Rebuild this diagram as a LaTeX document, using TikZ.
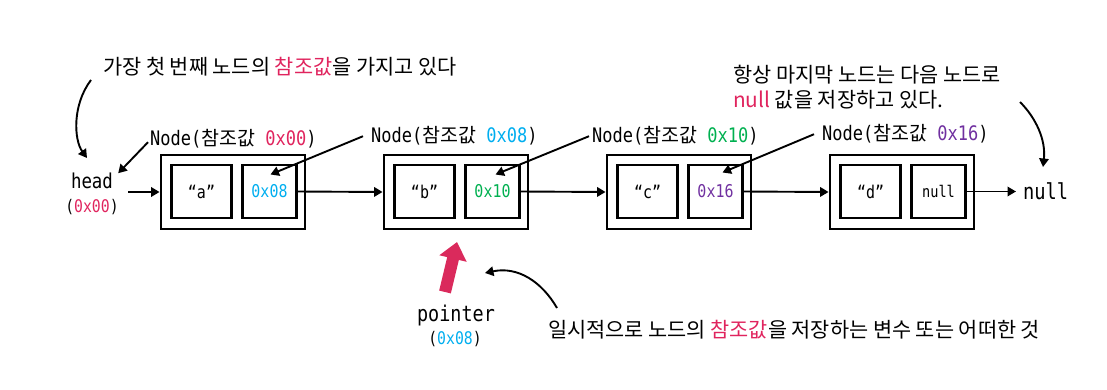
\documentclass[tikz,border=0pt]{standalone}
\usepackage{fontspec}
\setmainfont{Noto Sans CJK KR}
\newfontfamily\monof[FakeStretch=0.85]{DejaVu Sans Mono}
\newfontfamily\krf{Noto Sans CJK KR}
\usetikzlibrary{arrows.meta}
\definecolor{hred}{HTML}{E0245E}
\definecolor{hblue}{HTML}{00AEEF}
\definecolor{hgreen}{HTML}{00B050}
\definecolor{hpurple}{HTML}{7030A0}
\definecolor{pred}{HTML}{DA2A5C}
\newcommand\kor[1]{{\krf\fontsize{19.5}{22}\selectfont #1}}
\tikzset{
  outerbox/.style={draw, line width=2.9pt, minimum width=144pt, minimum height=74pt, inner sep=0pt},
  innerL/.style={draw, line width=2.5pt, minimum width=60pt, minimum height=53pt, inner sep=0pt, font=\monof\fontsize{17.6}{20}\selectfont},
  innerR/.style={draw, line width=2.5pt, minimum width=54pt, minimum height=53pt, inner sep=0pt, font=\monof\fontsize{17.6}{20}\selectfont},
  conn/.style={line width=1.9pt, -{Triangle[length=8.5pt,width=9.5pt]}},
  lbl/.style={font=\monof\fontsize{20}{22}\selectfont, inner sep=1pt, anchor=base west},
  ann/.style={font=\krf\fontsize{20.8}{24}\selectfont, inner sep=0pt, anchor=west},
  mono/.style={font=\monof\fontsize{#1}{#1}\selectfont, inner sep=0pt, anchor=base},
}
\begin{document}
\begin{tikzpicture}[x=1pt,y=-1pt]
\useasboundingbox (0,0) rectangle (1107,390);

% nodes of the list
\foreach \i/\X in {1/160,2/383,3/606,4/829}{
  \node[outerbox] (o\i) at (\X+73,192) {};
}
\node[innerL] (a1) at (201.5,191.5) {“a”};
\node[innerR] (r1) at (269.5,191.5) {\textcolor{hblue}{0x08}};
\node[innerL] (a2) at (424.5,191.5) {“b”};
\node[innerR] (r2) at (492.5,191.5) {\textcolor{hgreen}{0x10}};
\node[innerL] (a3) at (647.5,191.5) {“c”};
\node[innerR] (r3) at (715.5,191.5) {\textcolor{hpurple}{0x16}};
\node[innerL] (a4) at (870.5,191.5) {“d”};
\node[innerR,font=\monof\fontsize{16}{18}\selectfont] (r4) at (938.5,191.5) {null};

% head
\node[mono=20.5] (hd) at (92,189) {head};
\node[mono=17.4] (hda) at (92,212) {(\textcolor{hred}{0x00})};
\node[mono=22, anchor=base west, inner xsep=7pt] (nl) at (1016,200) {null};

% pointer
\node[mono=21.7] (pt) at (456,321) {pointer};
\node[mono=17.4] (pta) at (455,344) {(\textcolor{hblue}{0x08})};

% connectors along the list
\coordinate (hs) at (128,192);
\draw[conn] (hs) -- (o1.west);
\draw[conn] (r1.east) -- (o2.west);
\draw[conn] (r2.east) -- (o3.west);
\draw[conn] (r3.east) -- (o4.west);
\draw[conn] (r4.east) -- (r4.east -| nl.west);

% Node labels
\node[lbl] (l1) at (149,146) {Node(\kor{참조값} \textcolor{hred}{0x00})};
\node[lbl] (l2) at (370,143) {Node(\kor{참조값} \textcolor{hblue}{0x08})};
\node[lbl] (l3) at (591,143) {Node(\kor{참조값} \textcolor{hgreen}{0x10})};
\node[lbl] (l4) at (821,141) {Node(\kor{참조값} \textcolor{hpurple}{0x16})};

\draw[conn] ([shift={(-1pt,-3pt)}]l1.west) -- ([shift={(5pt,0pt)}]hd.north east);
\draw[conn] ([xshift=-7pt]l2.west) -- ([shift={(1pt,17pt)}]r1.center);
\draw[conn] ([xshift=-2pt]l3.west) -- ([shift={(3pt,17pt)}]r2.center);
\draw[conn] ([xshift=-7pt]l4.west) -- ([shift={(7pt,19pt)}]r3.center);

% annotations
\node[ann] (t1) at (103,67) {가장 첫 번째 노드의 \textcolor{hred}{참조값}을 가지고 있다};
\node[ann] (t2) at (733,75) {항상 마지막 노드는 다음 노드로};
\node[ann] (t3) at (733,100) {\textcolor{hred}{null} 값을 저장하고 있다.};
\node[ann] (t4) at (548,330) {일시적으로 노드의 \textcolor{hred}{참조값}을 저장하는 변수 또는 어떠한 것};

\coordinate (c1s) at (91,80);
\coordinate (c1e) at (87,158);
\draw[conn] (c1s) .. controls (72,105) and (74,140) .. (c1e);
\coordinate (c2s) at (1020,102);
\coordinate (c2e) at (1043,167);
\draw[conn] (c2s) .. controls (1036,118) and (1046,140) .. (c2e);
\coordinate (c3s) at (557,308);
\coordinate (c3e) at (485,273);
\draw[conn] (c3s) .. controls (542,282) and (518,266) .. (c3e);

% red pointer arrow
\coordinate (pb) at (445,292);
\coordinate (ptip) at (457,242);
\draw[pred, line width=12pt, -{Triangle[length=17pt,width=27pt]}] (pb) -- (ptip);
\end{tikzpicture}
\end{document}
